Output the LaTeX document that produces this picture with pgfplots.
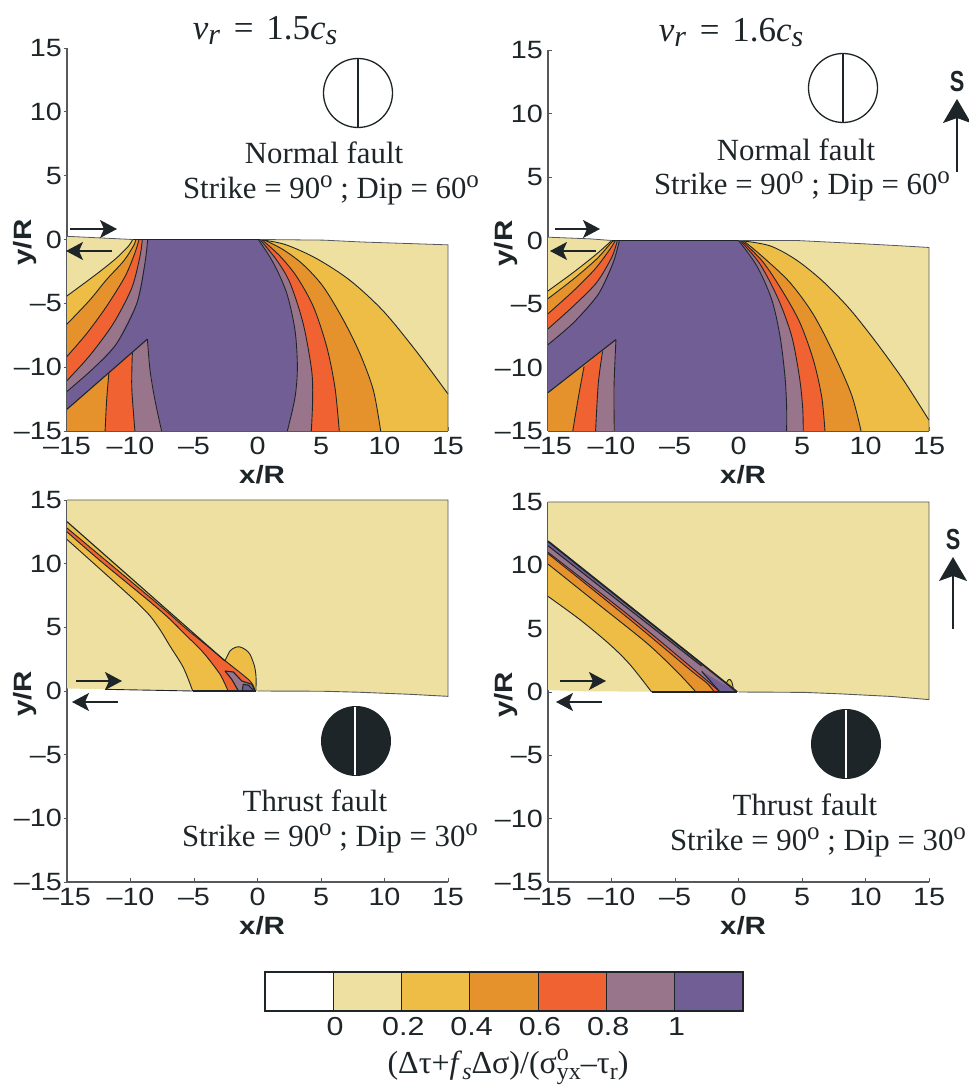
\documentclass[border=0pt]{standalone}
\usepackage{fontspec}
\setmainfont{Liberation Serif}
\newfontfamily\ar{Liberation Sans}
\usepackage{pgfplots}
\pgfplotsset{compat=1.18}
\usetikzlibrary{arrows.meta}
\definecolor{cbeige}{HTML}{EEE0A0}
\definecolor{cyellow}{HTML}{EDBD45}
\definecolor{corange}{HTML}{E5922C}
\definecolor{cred}{HTML}{F06231}
\definecolor{cmauve}{HTML}{98758B}
\definecolor{cpurple}{HTML}{715E94}
\definecolor{cdark}{HTML}{1E2528}
\definecolor{caxis}{HTML}{55595C}
\newcommand\fs[1]{\fontsize{#1}{#1}\selectfont}
\newcommand\fpx[2]{\addplot[fill=#2,draw=none,forget plot] coordinates {#1};}
\newcommand\fp[2]{\edef\tmpc{#2}\expandafter\fpx\expandafter{\tmpc}{#1}}
\newcommand\clx[1]{\addplot[cdark,line width=0.9pt,smooth,forget plot] coordinates {#1};}
\newcommand\cl[1]{\edef\tmpc{#1}\expandafter\clx\expandafter{\tmpc}}
\newcommand\slx[1]{\addplot[cdark,line width=1.1pt,forget plot] coordinates {#1};}
\newcommand\strl[1]{\edef\tmpc{#1}\expandafter\slx\expandafter{\tmpc}}
\newcommand\sups[1]{#1\raisebox{.36em}{\fs{25}o}}
\newcommand\strikeline[2]{\fs{30.8}Strike = \sups{#1} ; Dip = \sups{#2}}
\newcommand\speed[1]{\fs{35}\textit{v}\raisebox{-5pt}{\fs{30}\textit{r}}\hspace{5pt} = \hspace{4pt}#1\textit{c}\raisebox{-5pt}{\fs{30}\textit{s}}}
\pgfplotsset{panel/.style={
  scale only axis, clip=false, anchor=south west,
  xmin=-15,xmax=15,ymin=-15,ymax=15,
  axis x line*=bottom, axis y line*=left,
  axis line style={-,caxis,line width=1.1pt},
  xtick={-15,-10,-5,0,5,10,15}, ytick={-15,-10,-5,0,5,10,15},
  xticklabels={–15,–10,–5,0,5,10,15}, yticklabels={–15,–10,–5,0,5,10,15},
  tick label style={font=\ar\fs{25}, text=cdark, xscale=1.15},
  major tick length=3.5pt, tick align=inside, tick style={caxis,line width=0.7pt},
  xlabel={x/R}, ylabel={y/R},
  x label style={font=\ar\bfseries\fs{25},text=cdark,at={(axis description cs:0.512,0)},anchor=north,yshift=-31pt,xscale=1.18},
  y label style={font=\ar\bfseries\fs{25},text=cdark,at={(axis description cs:0,0.5)},anchor=south,yshift=27pt,xshift=-3pt,xscale=1.18},
  x tick label style={yshift=-3pt},
  y tick label style={xshift=-1pt},
}}
% ---- top left contours
\def\LA{(-15,-4.42)(-13.7,-3.47)(-12.4,-2.5)(-11.1,-1.45)(-10.17,-0.53)(-9.83,0)}
\def\LB{(-15,-6.63)(-13.2,-4.74)(-11.9,-3.16)(-10.56,-1.71)(-9.78,-0.53)(-9.57,0)}
\def\LC{(-15,-9.16)(-13.45,-7.37)(-11.9,-5.26)(-10.43,-2.9)(-9.65,-1.05)(-9.33,0)}
\def\LD{(-15,-11.05)(-13.2,-9.08)(-11.35,-6.58)(-9.9,-3.8)(-9.25,-1.3)(-9.07,0)}
\def\LE{(-15,-11.9)(-12.93,-10.1)(-11.1,-8.16)(-9.5,-5)(-8.86,-1.84)(-8.65,0)}
\def\RA{(0.2,0)(2.2,-0.4)(4.66,-1.5)(7.28,-3.2)(9.9,-5.6)(12.5,-8.75)(15,-12.1)}
\def\RB{(0.46,0)(2.03,-0.8)(3.6,-1.97)(5.18,-3.7)(6.76,-6.3)(8.07,-8.95)(9.12,-11.8)(9.7,-15)}
\def\RC{(0.33,0)(1.77,-1.3)(3.08,-2.9)(4.4,-5.26)(5.45,-8.4)(6.1,-11.6)(6.44,-15)}
\def\RD{(0.2,0)(1.5,-1.6)(2.56,-3.4)(3.6,-6.6)(4.27,-10.3)(4.34,-12.6)(4.24,-15)}
\def\RE{(0.07,0)(1.25,-1.84)(2.3,-4.2)(2.95,-7.1)(3.14,-10)(2.95,-12.4)(2.35,-15)}
\def\TON{(-8.67,-7.8)(-8.46,-10.26)(-8.07,-12.6)(-7.55,-15)}
\def\WR{(-11.7,-10.43)(-11.88,-12.6)(-12,-15)}
\def\WM{(-9.85,-8.83)(-9.9,-11.6)(-9.65,-15)}
\def\WRr{(-12,-15)(-11.88,-12.6)(-11.7,-10.43)}
\def\WMr{(-9.65,-15)(-9.9,-11.6)(-9.85,-8.83)}
% ---- top right contours
\def\MA{(-15,-3.97)(-13,-2.51)(-11.17,-1.06)(-9.98,0)}
\def\MB{(-15,-4.58)(-13,-3.04)(-11.17,-1.46)(-10.1,-0.26)(-9.8,0)}
\def\MC{(-15,-5.77)(-13,-3.97)(-11.3,-2.25)(-10.1,-0.66)(-9.7,0)}
\def\MD{(-15,-6.96)(-13,-5.16)(-11.17,-3.31)(-9.98,-1.32)(-9.54,0)}
\def\ME{(-15,-8.2)(-13,-6.48)(-11.04,-4.23)(-9.86,-1.72)(-9.38,0)}
\def\SA{(0.12,0)(2.48,-0.42)(4.58,-1.55)(6.68,-3.25)(8.78,-5.42)(10.88,-8.07)(12.98,-10.98)(15,-14.15)}
\def\SB{(0.38,0)(1.95,-1.32)(4.05,-3.31)(5.89,-5.82)(7.47,-8.86)(8.91,-12.17)(9.65,-15)}
\def\SC{(0.25,0)(1.95,-1.72)(3.53,-4.1)(4.84,-6.48)(5.89,-9.39)(6.55,-12.3)(6.81,-15)}
\def\SD{(0.12,0)(1.69,-1.85)(3.14,-4.63)(4.19,-7.54)(4.79,-10.7)(5.05,-13.1)(5.1,-15)}
\def\SE{(0,0)(1.43,-1.98)(2.61,-4.63)(3.27,-7.54)(3.66,-10.7)(3.79,-13.1)(3.79,-15)}
\def\TOM{(-9.65,-7.8)(-9.8,-11.5)(-9.78,-15)}
\def\XR{(-12.16,-9.92)(-12.6,-12.3)(-13.05,-15)}
\def\XM{(-10.7,-8.73)(-11.04,-11.24)(-11.25,-15)}
\def\XRr{(-13.05,-15)(-12.6,-12.3)(-12.16,-9.92)}
\def\XMr{(-11.25,-15)(-11.04,-11.24)(-10.7,-8.73)}
\begin{document}
\begin{tikzpicture}[x=1pt,y=1pt]
\useasboundingbox (0,0) rectangle (969,1085);
% ===== top left
\begin{axis}[panel,at={(67pt,654pt)},width=381pt,height=383pt,y tick style={xshift=-3.5pt}]
\fp{cbeige}{(-15,0.25)(-9.83,0)(0.2,0)(5.2,-0.05)(8.3,-0.2)(12,-0.32)(15,-0.42)(15,-15)(-15,-15)}
\fp{cyellow}{\LA\RA(15,-15)(-15,-15)}
\fp{corange}{\LB\RB(-15,-15)}
\fp{cred}{\LC\RC(-15,-15)}
\fp{cmauve}{\LD\RD(-15,-15)}
\fp{cpurple}{\LE\RE(-15,-15)}
\fp{corange}{(-15,-13.3)\TON(-15,-15)}
\fp{cred}{(-11.7,-10.43)\TON\WRr}
\fp{cmauve}{(-9.85,-8.83)\TON\WMr}
\cl{\LA}\cl{\LB}\cl{\LC}\cl{\LD}\cl{\LE}\cl{\RA}\cl{\RB}\cl{\RC}\cl{\RD}\cl{\RE}
\cl{\TON}\cl{\WR}\cl{\WM}
\strl{(-15,-13.3)(-8.67,-7.8)}
\strl{(-9.83,0)(0.2,0)}
\addplot[caxis,line width=0.8pt,forget plot] coordinates {(-15,0.25)(-9.83,0)};
\addplot[caxis,line width=0.8pt,forget plot] coordinates {(0.2,0)(5.2,-0.05)(8.3,-0.2)(12,-0.32)(15,-0.42)(15,-15)};
\end{axis}
% ===== top right
\begin{axis}[panel,at={(548pt,654pt)},width=381pt,height=381pt]
\fp{cbeige}{(-15,0.26)(-11.7,0.13)(-9.98,0)(0,0)(4.58,0)(7.2,-0.13)(9.83,-0.26)(12.45,-0.4)(15,-0.55)(15,-15)(-15,-15)}
\fp{cyellow}{\MA\SA(15,-15)(-15,-15)}
\fp{corange}{\MB\SB(-15,-15)}
\fp{cred}{\MC\SC(-15,-15)}
\fp{cmauve}{\MD\SD(-15,-15)}
\fp{cpurple}{\ME\SE(-15,-15)}
\fp{corange}{(-15,-11.98)\TOM(-15,-15)}
\fp{cred}{(-12.16,-9.92)\TOM\XRr}
\fp{cmauve}{(-10.7,-8.73)\TOM\XMr}
\cl{\MA}\cl{\MB}\cl{\MC}\cl{\MD}\cl{\ME}\cl{\SA}\cl{\SB}\cl{\SC}\cl{\SD}\cl{\SE}
\cl{\TOM}\cl{\XR}\cl{\XM}
\strl{(-15,-11.98)(-9.65,-7.8)}
\strl{(-9.98,0)(0,0)}
\addplot[caxis,line width=0.8pt,forget plot] coordinates {(-15,0.26)(-11.7,0.13)(-9.98,0)};
\addplot[caxis,line width=0.8pt,forget plot] coordinates {(0,0)(4.58,0)(7.2,-0.13)(9.83,-0.26)(12.45,-0.4)(15,-0.55)(15,-15)};
\end{axis}
% ===== bottom left
\begin{axis}[panel,at={(67pt,203pt)},width=381pt,height=382pt,y tick style={xshift=-3.5pt}]
\fp{cbeige}{(-15,15)(15,15)(15,-0.42)(12,-0.26)(8.07,-0.1)(5.16,-0.02)(0,0)(-12,0.13)(-15,0.2)}
\def\BA{(-15,11.9)(-12.4,9.58)(-9.78,7.22)(-8.46,5.9)(-7.6,4.7)(-6.89,3.53)(-5.84,1.84)(-5.1,0)}
\def\BB{(-2.56,2.36)(-2.17,3.14)(-1.75,3.42)(-1.38,3.46)(-0.95,3.25)(-0.59,2.88)(-0.25,2)(-0.12,1.2)(-0.12,0)}
\fp{cyellow}{\BA(-0.12,0)(-0.12,1.2)(-0.25,2)(-0.59,2.88)(-0.95,3.25)(-1.38,3.46)(-1.75,3.42)(-2.17,3.14)(-2.56,2.36)(-15,13.3)}
\def\BC{(-15,12.5)(-12.4,10.24)(-8.46,7)(-6.89,5.63)(-5.57,4.32)(-4.27,3.02)(-2.95,1.31)(-2.32,0)}
\def\BD{(-15,12.8)(-8.46,7.35)(-6.89,6.02)(-5.57,4.85)(-4.27,3.8)(-2.69,2.49)(-0.59,0.79)(-0.2,0)}
\fp{cred}{\BC(-0.2,0)(-0.59,0.79)(-2.69,2.49)(-4.27,3.8)(-5.57,4.85)(-6.89,6.02)(-8.46,7.35)(-15,12.8)}
\def\BE{(-2.56,1.57)(-1.9,1.49)(-1.24,0.79)(-0.46,0.53)(-0.2,0)(-1.5,0)(-2.03,0.92)(-2.56,1.57)}
\fp{cmauve}{\BE}
\def\BF{(-1.12,0.53)(-0.7,0.45)(-0.28,0)(-1.2,0)(-1.12,0.53)}
\fp{cpurple}{\BF}
\cl{\BA}\cl{\BB}\cl{\BC}\cl{\BD}
\strl{(-15,13.3)(-2.56,2.36)}
\strl{\BE}\strl{\BF}
\strl{(-5.1,0)(-0.12,0)}
\addplot[cdark,line width=0.9pt,forget plot] coordinates {(-12,0.13)(-5.1,0)};
\addplot[caxis,line width=0.9pt,forget plot] coordinates {(-15,15)(15,15)(15,-0.42)(12,-0.26)(8.07,-0.1)(5.16,-0.02)(0,0)};
\end{axis}
% ===== bottom right
\begin{axis}[panel,at={(548pt,203pt)},width=381pt,height=380pt]
\fp{cbeige}{(-15,15)(15,15)(15,-0.6)(12,-0.35)(8.07,-0.15)(5.16,-0.03)(0,0)(-12,0.05)(-15,0.15)}
\fp{cyellow}{(-1.06,0.45)(-0.8,0.97)(-0.54,0.84)(-0.36,0)}
\cl{(-1.06,0.45)(-0.8,0.97)(-0.54,0.84)(-0.36,0)}
\def\CB{(-15,7.55)(-12.48,5.71)(-10.12,3.74)(-8.54,2.16)(-6.84,0)}
\def\CC{(-15,10.1)(-11.17,7.03)(-7.23,3.87)(-4.87,1.63)(-3.35,0)}
\def\CD{(-15,10.92)(-8.54,5.71)(-3.82,1.76)(-2.5,0.71)(-1.9,0)}
\def\CE{(-15,11.03)(-8.54,5.97)(-3.03,1.37)(-1.46,0)}
\fp{cyellow}{\CB(-0.1,0)(-15,11.9)}
\fp{corange}{\CC(-0.1,0)(-15,11.9)}
\fp{cred}{\CD(-0.1,0)(-15,11.9)}
\fp{cmauve}{\CE(-0.1,0)(-15,11.9)}
\fp{cpurple}{(-2.9,1.63)(-0.1,0)(-1.46,0)}
\fp{cpurple}{(-15,11.9)(-0.1,0)(-0.7,0.5)(-15,11.62)}
\cl{\CB}\cl{\CC}\cl{\CD}\cl{\CE}
\strl{(-2.9,1.63)(-1.46,0)}
\strl{(-15,11.55)(-2.9,2.05)}
\addplot[cdark,line width=1.8pt,forget plot] coordinates {(-15,11.9)(-0.1,0)};
\strl{(-6.84,0)(-0.1,0)}
\addplot[caxis,line width=0.9pt,forget plot] coordinates {(-15,15)(15,15)(15,-0.6)(12,-0.35)(8.07,-0.15)(5.16,-0.03)(0,0)};
\end{axis}
% ===== colour bar
\begin{axis}[scale only axis,anchor=south west,at={(265pt,74pt)},width=478pt,height=39pt,
  xmin=0,xmax=7,ymin=0,ymax=1,ytick=\empty,xtick={1,2,3,4,5,6},
  xticklabels={0,0.2,0.4,0.6,0.8,1},major tick length=0pt,
  axis line style={cdark,line width=1.1pt},axis on top,
  tick label style={font=\ar\fs{26},text=cdark,xscale=1.17},x tick label style={xshift=1.5pt,yshift=-3pt}]
\fp{white}{(0,0)(1,0)(1,1)(0,1)}
\fp{cbeige}{(1,0)(2,0)(2,1)(1,1)}
\fp{cyellow}{(2,0)(3,0)(3,1)(2,1)}
\fp{corange}{(3,0)(4,0)(4,1)(3,1)}
\fp{cred}{(4,0)(5,0)(5,1)(4,1)}
\fp{cmauve}{(5,0)(6,0)(6,1)(5,1)}
\fp{cpurple}{(6,0)(7,0)(7,1)(6,1)}
\strl{(1,0)(1,1)}\strl{(2,0)(2,1)}\strl{(3,0)(3,1)}\strl{(4,0)(4,1)}\strl{(5,0)(5,1)}\strl{(6,0)(6,1)}
\end{axis}
% ===== annotations
\tikzset{tx/.style={text=cdark,inner sep=0pt,anchor=center},
  arr/.style={cdark,line width=1.3pt,-{Stealth[length=17pt,width=18pt,inset=4pt]}},
  sarr/.style={cdark,line width=1.3pt,-{Stealth[length=24pt,width=28pt,inset=5pt]}}}
\node[tx] at (265,1054) {\speed{1.5}};
\node[tx] at (731,1052) {\speed{1.6}};
% beach balls
\draw[cdark,line width=1.3pt,fill=white] (358,992) circle (34.5);
\draw[cdark,line width=1.3pt] (358,1026.5) -- (358,957.5);
\draw[cdark,line width=1.3pt,fill=white] (843,997) circle (34.5);
\draw[cdark,line width=1.3pt] (843,1031.5) -- (843,962.5);
\fill[cdark] (356,344) circle (35);
\draw[white,line width=1.4pt] (355,378) -- (355,310);
\fill[cdark] (846,341) circle (35);
\draw[white,line width=1.4pt] (846,375) -- (846,307);
% fault text
\node[tx] at (324,932) {\fs{30.8}Normal fault};
\node[tx] at (331,895) {\strikeline{90}{60}};
\node[tx] at (796,935) {\fs{30.8}Normal fault};
\node[tx] at (802,899) {\strikeline{90}{60}};
\node[tx] at (315,284) {\fs{30.8}Thrust fault};
\node[tx] at (330,247) {\strikeline{90}{30}};
\node[tx] at (805,280) {\fs{30.8}Thrust fault};
\node[tx] at (818,243) {\strikeline{90}{30}};
% slip arrows
\draw[arr] (70,856) -- (117,856);
\draw[arr] (112,834) -- (66,834);
\draw[arr] (555,856) -- (600,856);
\draw[arr] (596,834) -- (550,834);
\draw[arr] (76,404) -- (122,404);
\draw[arr] (118,383) -- (72,383);
\draw[arr] (560,404) -- (606,404);
\draw[arr] (602,383) -- (556,383);
% s arrows
\draw[sarr] (957,913) -- (957,986);
\node[tx,xscale=.75] at (957,1003) {\ar\bfseries\fs{29}S};
\draw[sarr] (953,456) -- (953,528);
\node[tx,xscale=.75] at (953,545) {\ar\bfseries\fs{29}S};
% colour bar label
\node[tx] at (508,18) {\fs{32}(Δτ+\textit{f}\raisebox{-.2em}{\fs{24}\textit{s}}Δσ)/(σ\rlap{\raisebox{.42em}{\fs{24}o}}\raisebox{-.2em}{\fs{24}yx}–τ\raisebox{-.2em}{\fs{24}r})};
\end{tikzpicture}
\end{document}
